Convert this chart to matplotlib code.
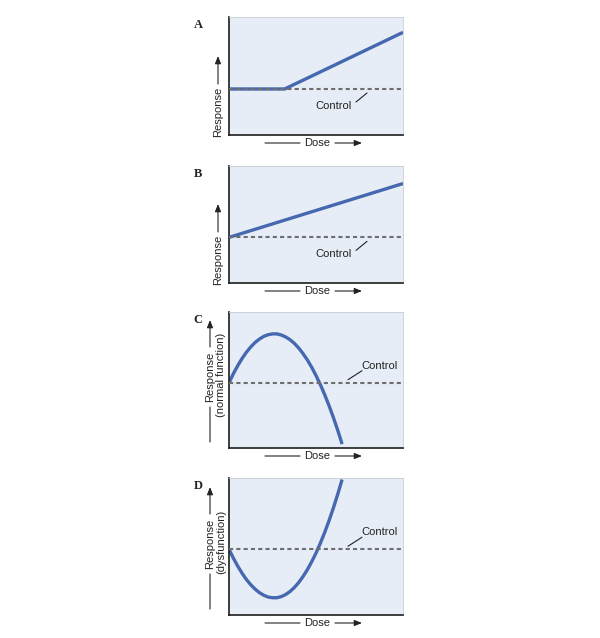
import matplotlib.pyplot as plt

# values (dose 0-10, response 0-10)
dose_a = [0, 3.2, 10]
resp_a = [3.9, 3.9, 8.7]
dose_b = [0, 10]
resp_b = [3.9, 8.5]
dose_cd = [0, 0.25, 0.5, 0.75, 1, 1.25, 1.5, 1.75, 2, 2.25, 2.5, 2.75, 3, 3.25,
           3.5, 3.75, 4, 4.25, 4.5, 4.75, 5, 5.25, 5.5, 5.75, 6, 6.25, 6.5]
resp_c = [4.80, 5.46, 6.05, 6.58, 7.04, 7.43, 7.76, 8.01, 8.21, 8.33, 8.39, 8.39, 8.31, 8.17,
          7.97, 7.70, 7.36, 6.95, 6.48, 5.94, 5.33, 4.66, 3.92, 3.11, 2.24, 1.30, 0.29]
resp_d = [4.80, 4.15, 3.57, 3.05, 2.59, 2.21, 1.89, 1.63, 1.44, 1.31, 1.26, 1.26, 1.34, 1.49,
          1.71, 2.00, 2.36, 2.80, 3.30, 3.88, 4.52, 5.24, 6.03, 6.89, 7.82, 8.82, 9.89]
controls = [3.9, 3.9, 4.8, 4.8]
letters = ["A", "B", "C", "D"]
sublabels = [None, None, "(normal function)", "(dysfunction)"]

W, H = 600, 638
BG = "#e7edf6"
BLUE = "#4568b0"
GRAY = "#6e6e6e"
TXT = "#222222"

fig = plt.figure(figsize=(6.0, 6.38), dpi=100)
plt.rcParams['font.family'] = ['Liberation Sans', 'DejaVu Sans']

# panel boxes in pixels: (top, bottom)
boxes = [(17, 135), (166, 283), (312, 448), (478, 615)]
left, right = 229, 403


def fx(px):
    return px / W


def fy(py):
    return 1 - py / H


def arrow(x0, y0, x1, y1, head=True):
    fig.add_artist(plt.Annotation(
        "", xy=(fx(x1), fy(y1)), xytext=(fx(x0), fy(y0)),
        xycoords="figure fraction", textcoords="figure fraction",
        arrowprops=dict(arrowstyle="-|>,head_length=0.45,head_width=0.18" if head else "-",
                        lw=0.8, color=TXT, shrinkA=0, shrinkB=0)))


series = [(dose_a, resp_a), (dose_b, resp_b), (dose_cd, resp_c), (dose_cd, resp_d)]

for i, (top, bot) in enumerate(boxes):
    ax = fig.add_axes([fx(left), fy(bot), fx(right) - fx(left), (bot - top) / H])
    ax.set_facecolor(BG)
    ax.set_xlim(0, 10)
    ax.set_ylim(0, 10)
    ax.set_xticks([])
    ax.set_yticks([])
    for s in ["left", "bottom"]:
        ax.spines[s].set_color("#1e1e1e")
        ax.spines[s].set_linewidth(1.2)
    for s in ["top", "right"]:
        ax.spines[s].set_color("#c9cdd4")
        ax.spines[s].set_linewidth(0.6)

    x, y = series[i]
    ax.plot(x, y, color=BLUE, lw=2.4, solid_capstyle="butt", solid_joinstyle="round", zorder=2)
    ax.axhline(controls[i], color=GRAY, lw=1.5, ls=(0, (2.0, 1.5)), zorder=3)

    # panel letter
    fig.text(fx(198), fy(top + 8), letters[i], family=["Liberation Serif", "DejaVu Serif"],
             fontweight="bold", fontsize=9, ha="center", va="center", color=TXT)

    # dose label with arrows
    yd = bot + 8
    fig.text(fx(317), fy(yd), "Dose", fontsize=8, ha="center", va="center", color=TXT)
    arrow(265, yd, 300, yd, head=False)
    arrow(335, yd, 362, yd)

    # control label and leader
    cy = bot - controls[i] * (bot - top) / 10
    if i < 2:
        fig.text(fx(334), fy(cy + 17), "Control", fontsize=8, ha="center", va="center", color=TXT)
        arrow(356, cy + 13, 367, cy + 4, head=False)
    else:
        fig.text(fx(380), fy(cy - 17), "Control", fontsize=8, ha="center", va="center", color=TXT)
        arrow(348, cy - 3, 362, cy - 12, head=False)

    # response label
    if sublabels[i] is None:
        fig.text(fx(218), fy(bot - 23), "Response", fontsize=8, rotation=90,
                 ha="center", va="center", color=TXT)
        arrow(218, bot - 51, 218, bot - 79)
    else:
        fig.text(fx(210), fy(bot - 71), "Response", fontsize=8, rotation=90,
                 ha="center", va="center", color=TXT)
        fig.text(fx(221), fy(bot - 73), sublabels[i], fontsize=8, rotation=90,
                 ha="center", va="center", color=TXT)
        arrow(210, bot - 6, 210, bot - 41, head=False)
        arrow(210, bot - 101, 210, bot - 128)

fig.savefig("out.png", dpi=100, facecolor="white")
